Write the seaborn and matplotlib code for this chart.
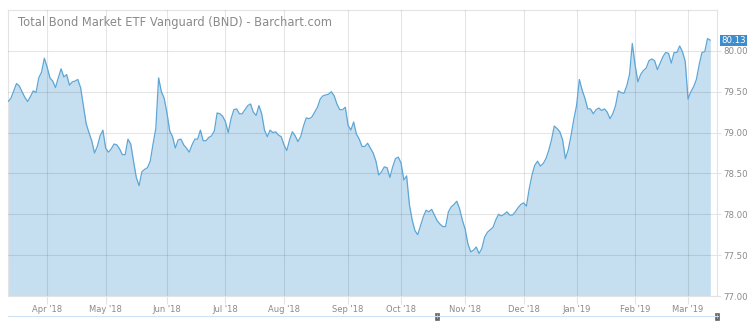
import numpy as np
import pandas as pd
import matplotlib
matplotlib.use("Agg")
import matplotlib.pyplot as plt
import matplotlib.transforms as mtransforms
from matplotlib.lines import Line2D
from matplotlib.patches import Rectangle
import seaborn as sns

# ---------------- data (daily closes, BND) ----------------
title = "Total Bond Market ETF Vanguard (BND) - Barchart.com"
start_date = "2018-03-12"
market_holidays = ["2018-03-30", "2018-05-28", "2018-07-04", "2018-09-03",
                   "2018-11-22", "2018-12-05", "2018-12-25", "2019-01-01",
                   "2019-01-21", "2019-02-18"]

close_mar18 = [79.38, 79.42, 79.51, 79.60, 79.57, 79.50, 79.43, 79.38, 79.44, 79.51,
               79.49, 79.67, 79.74, 79.91]
close_apr18 = [79.80, 79.67, 79.63, 79.55, 79.67, 79.78, 79.68, 79.71, 79.58, 79.62,
               79.63, 79.65, 79.55, 79.33, 79.11, 79.00, 78.90, 78.75, 78.83, 78.96,
               79.03]
close_may18 = [78.81, 78.76, 78.80, 78.86, 78.85, 78.80, 78.73, 78.73, 78.92, 78.86,
               78.65, 78.45, 78.35, 78.52, 78.55, 78.57, 78.65, 78.86, 79.05, 79.67,
               79.50, 79.42]
close_jun18 = [79.24, 79.02, 78.95, 78.81, 78.91, 78.92, 78.85, 78.81, 78.76, 78.85,
               78.92, 78.92, 79.03, 78.90, 78.90, 78.94, 78.96, 79.02, 79.24, 79.23,
               79.20]
close_jul18 = [79.13, 79.00, 79.17, 79.28, 79.29, 79.23, 79.23, 79.28, 79.33, 79.35,
               79.25, 79.21, 79.33, 79.23, 79.03, 78.95, 79.03, 79.00, 79.01, 78.97,
               78.95]
close_aug18 = [78.85, 78.78, 78.91, 79.01, 78.96, 78.89, 78.95, 79.08, 79.18, 79.17,
               79.19, 79.25, 79.31, 79.41, 79.45, 79.46, 79.47, 79.50, 79.45, 79.35,
               79.28, 79.28, 79.31]
close_sep18 = [79.09, 79.03, 79.13, 78.98, 78.92, 78.83, 78.83, 78.87, 78.81, 78.75,
               78.65, 78.48, 78.52, 78.58, 78.57, 78.45, 78.58, 78.68, 78.70]
close_oct18 = [78.63, 78.42, 78.47, 78.12, 77.93, 77.80, 77.75, 77.86, 77.97, 78.05,
               78.03, 78.06, 77.99, 77.92, 77.88, 77.85, 77.85, 78.03, 78.09, 78.12,
               78.16, 78.07, 77.93]
close_nov18 = [77.82, 77.64, 77.54, 77.56, 77.60, 77.52, 77.58, 77.72, 77.78, 77.81,
               77.84, 77.93, 78.00, 77.98, 78.00, 78.03, 77.99, 77.99, 78.03, 78.08,
               78.12]
close_dec18 = [78.14, 78.10, 78.31, 78.48, 78.60, 78.65, 78.59, 78.62, 78.68, 78.78,
               78.91, 79.08, 79.05, 79.01, 78.91, 78.68, 78.79, 78.96, 79.16]
close_jan19 = [79.33, 79.65, 79.52, 79.42, 79.29, 79.29, 79.23, 79.28, 79.30, 79.27,
               79.29, 79.25, 79.17, 79.23, 79.33, 79.51, 79.49, 79.48, 79.57, 79.71,
               80.09]
close_feb19 = [79.83, 79.62, 79.71, 79.76, 79.79, 79.88, 79.90, 79.88, 79.77, 79.85,
               79.93, 79.98, 79.97, 79.85, 79.98, 79.98, 80.06, 79.99, 79.87]
close_mar19 = [79.41, 79.50, 79.56, 79.65, 79.83, 79.98, 79.99, 80.15, 80.13]

y_ticks = [77.00, 77.50, 78.00, 78.50, 79.00, 79.50, 80.00]

closes = (close_mar18 + close_apr18 + close_may18 + close_jun18 + close_jul18 +
          close_aug18 + close_sep18 + close_oct18 + close_nov18 + close_dec18 +
          close_jan19 + close_feb19 + close_mar19)

dates = pd.bdate_range(start=start_date, periods=len(closes), freq="C",
                       holidays=market_holidays)
df = pd.DataFrame({"date": dates, "close": closes})
df["day"] = np.arange(len(df))

# first trading day of each month (after the first partial month)
month_key = df["date"].dt.to_period("M")
first_days = df[month_key != month_key.shift(1)].iloc[1:]
tick_pos = first_days["day"].tolist()
tick_lab = [d.strftime("%b '%y") for d in first_days["date"]]

# ---------------- styling ----------------
sns.set_style("white")
plt.rcParams["font.family"] = ["DejaVu Sans"]

W, H = 750, 335
fig = plt.figure(figsize=(W / 100, H / 100), dpi=100)
left, right, top, bottom = 8, 717, 10, 296
ax = fig.add_axes([left / W, 1 - bottom / H, (right - left) / W, (bottom - top) / H])

line_col = "#5da6d6"
fill_col = "#c6dff0"
ymin, ymax = 77.0, 80.50

ax.fill_between(df["day"], df["close"], ymin, color=fill_col, lw=0, zorder=1)
sns.lineplot(data=df, x="day", y="close", ax=ax, color=line_col, lw=0.9, zorder=3)

ax.set_xlim(-0.05, 254.4)
ax.set_ylim(ymin, ymax)
ax.set_xlabel("")
ax.set_ylabel("")

ax.set_axisbelow(False)
ax.set_xticks(tick_pos)
ax.set_xticklabels(tick_lab)
ax.set_yticks(y_ticks)
ax.set_yticklabels([f"{v:.2f}" for v in y_ticks])
ax.yaxis.tick_right()
ax.grid(True, color="black", alpha=0.10, lw=0.8)
ax.tick_params(axis="x", length=6, width=0.8, color="#e3e3e3", pad=0.5,
               labelsize=6, labelcolor="#8a8a8a", bottom=True)
ax.tick_params(axis="y", length=3, width=0.8, color="#e3e3e3", pad=1.5,
               labelsize=6.2, labelcolor="#8a8a8a", right=True, left=False)
for s in ax.spines.values():
    s.set_color("#e3e3e3")
    s.set_linewidth(0.8)

# title inside plot area
fig.text(18 / W, 1 - 22.5 / H, title, fontsize=8.3, color="#8a8a8a",
         ha="left", va="center")

# last-price label
trans = mtransforms.blended_transform_factory(ax.transAxes, ax.transData)
ax.text(1.006, closes[-1], f"{closes[-1]:.2f}", transform=trans, fontsize=6.2,
        color="white", ha="left", va="center", zorder=6, clip_on=False,
        bbox=dict(boxstyle="square,pad=0.12", fc="#3e8ccb", ec="none"))

# navigator strip
fig.add_artist(Line2D([left / W, 718 / W], [1 - 315.7 / H] * 2,
                      color="#cfe2f3", lw=0.8))
for hx in (435, 715):
    fig.add_artist(Rectangle((hx / W, 1 - 319.5 / H), 4 / W, 7 / H,
                             transform=fig.transFigure, fc="#666666", ec="#555555",
                             lw=0.4))
    fig.add_artist(Line2D([(hx + 2) / W] * 2, [1 - 318 / H, 1 - 314 / H],
                          color="#cccccc", lw=0.5))

fig.savefig("out.png", dpi=100)
